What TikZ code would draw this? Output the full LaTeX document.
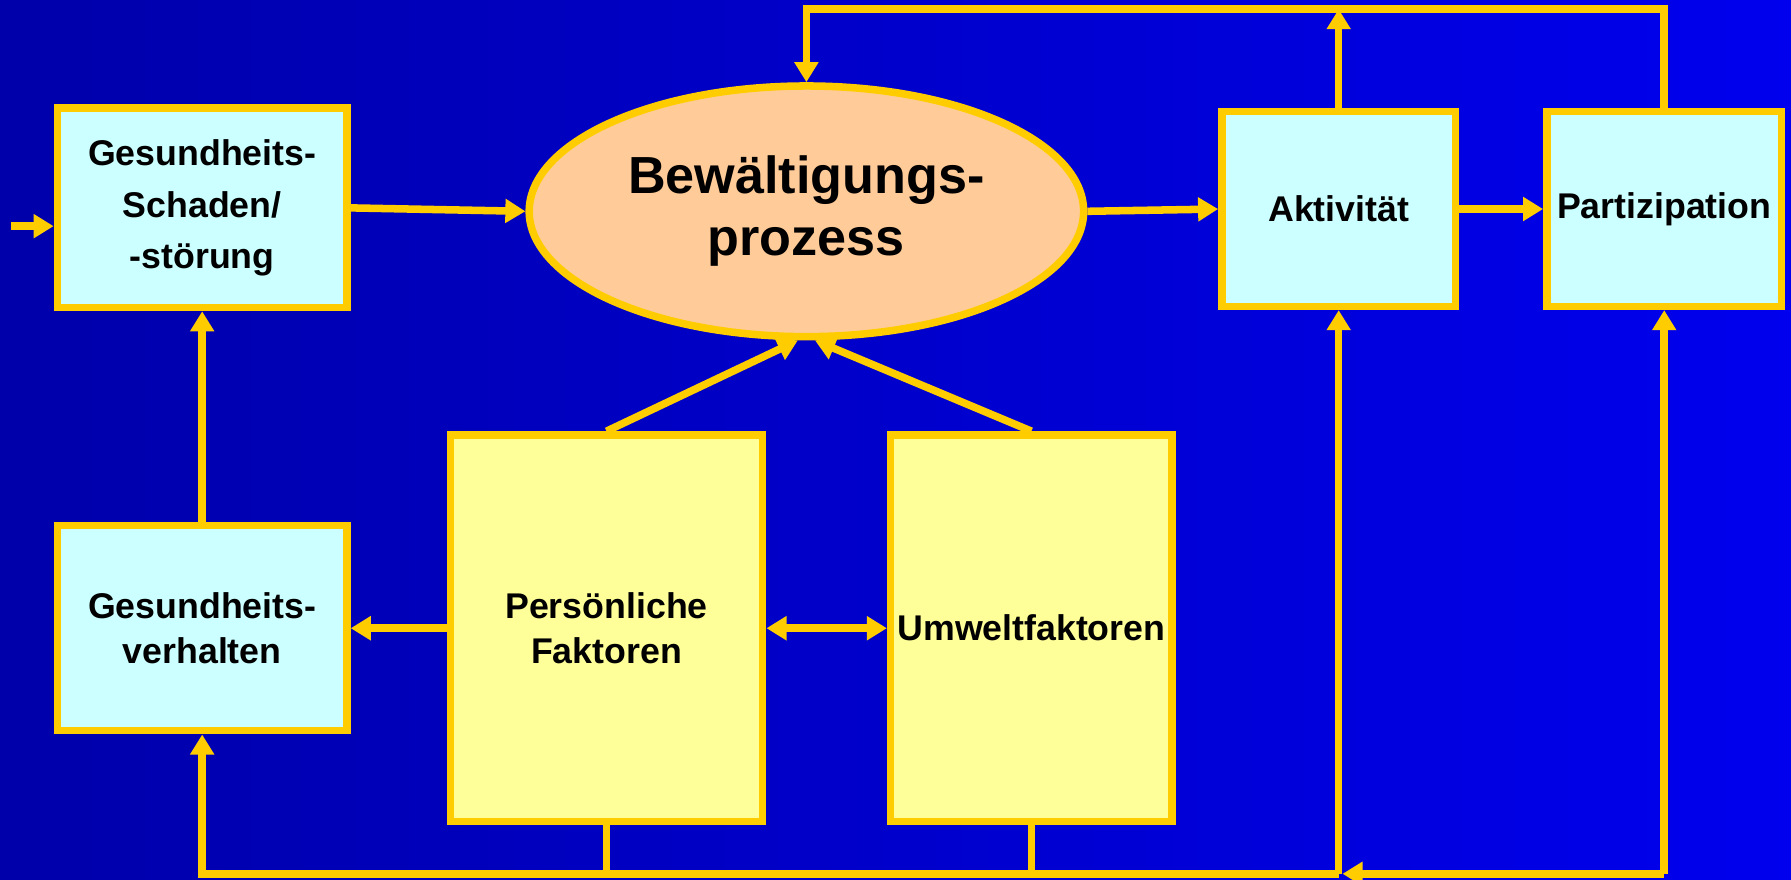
\documentclass[tikz,border=0pt]{standalone}
\usepackage{fontspec}
\setmainfont{Liberation Sans}
\usetikzlibrary{arrows.meta,shapes.geometric}

\definecolor{bgleft}{RGB}{0,0,170}
\definecolor{bgright}{RGB}{0,0,238}
\definecolor{gold}{RGB}{255,204,0}
\definecolor{cyanfill}{RGB}{204,255,255}
\definecolor{yellowfill}{RGB}{255,255,153}
\definecolor{peach}{RGB}{255,204,153}

\begin{document}
\begin{tikzpicture}[x=.02cm, y=-.02cm,
	>={Triangle[length=10pt, width=11.5pt]},
	box/.style={draw=gold, line width=3.75pt, inner sep=0pt, align=center, font=\fontsize{17.8}{25.5}\selectfont\bfseries},
	cyanbox/.style={box, fill=cyanfill},
	yellowbox/.style={box, fill=yellowfill, font=\fontsize{17.8}{22}\selectfont\bfseries},
	wire/.style={draw=gold, line width=3.75pt},
	link/.style={wire, ->}
]
	% background
	\clip (0,0) rectangle (1568,770);
	\fill[left color=bgleft, right color=bgright] (0,0) rectangle (1568,770);

	% boxes
	\node[cyanbox, minimum width=5.07cm, minimum height=3.49cm] (schaden) at (177,182) {Gesundheits-\\Schaden/\\-störung};
	\node[box, ellipse, fill=peach, minimum width=9.71cm, minimum height=4.39cm, font=\fontsize{26}{31}\selectfont\bfseries] (prozess) at (706,185) {Bewältigungs-\\prozess};
	\node[cyanbox, minimum width=4.09cm, minimum height=3.41cm] (aktiv) at (1172,183) {Aktivität};
	\node[cyanbox, minimum width=4.11cm, minimum height=3.41cm] (partiz) at (1457,183) {Partizipation};
	\node[cyanbox, minimum width=5.07cm, minimum height=3.59cm, font=\fontsize{17.8}{22}\selectfont\bfseries] (verhalten) at (177,550) {Gesundheits-\\verhalten};
	\node[yellowbox, minimum width=5.47cm, minimum height=6.77cm] (person) at (531,550) {Persönliche\\Faktoren};
	\node[yellowbox, minimum width=4.93cm, minimum height=6.77cm] (umwelt) at (903,550) {Umweltfaktoren};

	\coordinate (eingang) at (10,198);
	\coordinate (oben) at (0,8);
	\coordinate (unten) at (0,765);

	% arrows
	\draw[link] (eingang) -- (eingang -| schaden.west);
	\draw[link] (schaden.east) -- (prozess.west);
	\draw[link] (prozess.east) -- (aktiv.west);
	\draw[link] (aktiv.east) -- (partiz.west);
	\draw[link] (partiz.north) |- (prozess.north |- oben) -- (prozess.north);
	\draw[link] (aktiv.north) -- (aktiv.north |- oben);
	\draw[link] (person.north) -- ([xshift=-.15cm]prozess.south);
	\draw[link] (umwelt.north) -- ([xshift=.15cm]prozess.south);
	\draw[link] (person.west) -- (verhalten.east);
	\draw[wire, <->] (person.east) -- (umwelt.west);
	\draw[link] (verhalten.north) -- (schaden.south);

	% bottom lines
	\draw[wire] (person.south) -- (person.south |- unten);
	\draw[wire] (umwelt.south) -- (umwelt.south |- unten);
	\draw[link] (aktiv.south |- unten) -| (verhalten.south);
	\draw[link] (aktiv.south |- unten) -- (aktiv.south);
	\draw[link] (partiz.south |- unten) -- (partiz.south);
	\draw[link, shorten >=1.9pt] (partiz.south |- unten) -- (aktiv.south |- unten);
\end{tikzpicture}
\end{document}
